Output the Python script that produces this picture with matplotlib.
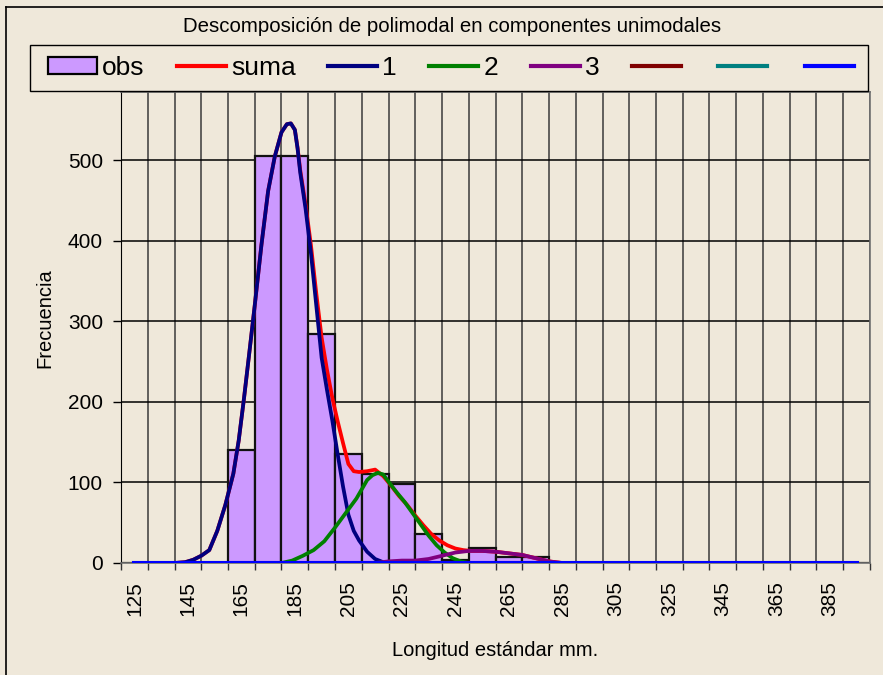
import numpy as np
import matplotlib
matplotlib.use("Agg")
import matplotlib.pyplot as plt
from matplotlib.lines import Line2D
from matplotlib.patches import Patch, Rectangle

# categories (class marks, mm) and observed frequencies
cats = np.arange(125, 400, 10)
obs = [0, 0, 0, 0, 140, 505, 505, 285, 135, 110, 98, 36, 4, 19, 8, 7,
       0, 0, 0, 0, 0, 0, 0, 0, 0, 0, 0, 0]
label_cats = cats[::2]

# fitted curves
x_suma = [125, 140, 144, 147, 150, 153, 156, 159, 162, 164, 166, 168, 170, 172.5, 175,
          177.5, 180, 182, 183.5, 185, 186, 187, 189, 191, 193, 195, 197, 199, 201, 203,
          205, 207, 209, 212, 215, 218, 221, 224, 227, 230, 233, 236, 239, 242, 245, 248,
          251, 255, 260, 265, 270, 275, 280, 285, 290, 395]
y_suma = [0, 0, 1, 4, 9, 16, 40, 72, 111, 152, 205, 262, 320, 395, 462,
          505, 535, 545, 546, 538, 516, 488, 445, 395, 335, 280, 240, 205, 176, 149,
          123, 114, 113, 114, 116, 108, 96, 83, 72, 59, 47, 36, 28, 22, 18, 16,
          15, 15, 14, 12, 10, 6, 2, 0, 0, 0]

x_c1 = [125, 140, 144, 147, 150, 153, 156, 159, 162, 164, 166, 168, 170, 172.5, 175,
        177.5, 180, 182, 183.5, 185, 186, 187, 189, 191, 193, 195, 197, 199, 201, 203,
        205, 207, 209, 212, 215, 218, 220, 395]
y_c1 = [0, 0, 1, 4, 9, 16, 40, 72, 111, 152, 205, 262, 320, 395, 462,
        505, 535, 545, 546, 538, 515, 485, 440, 385, 320, 255, 215, 177, 135, 95,
        60, 40, 28, 14, 5, 1, 0, 0]

x_c2 = [125, 180, 184, 188, 192, 196, 200, 204, 208, 212, 214, 216, 218, 220, 223,
        226, 229, 232, 235, 238, 241, 244, 247, 250, 395]
y_c2 = [0, 0, 3, 9, 16, 27, 44, 62, 80, 103, 109, 112, 110, 101, 88,
        76, 62, 48, 34, 22, 13, 6, 2, 0, 0]

x_c3 = [125, 215, 220, 225, 230, 235, 240, 245, 250, 255, 260, 265, 270, 275, 280,
        285, 290, 395]
y_c3 = [0, 0, 2, 3, 3, 5, 9, 13, 15, 15, 14, 12, 10, 6, 2, 0, 0, 0]

# empty components 4-6
zeros = [0] * len(cats)

bg = "#EFE8DA"
W, H = 883, 675
plt.rcParams["font.family"] = ["Liberation Sans", "DejaVu Sans"]

fig = plt.figure(figsize=(W / 100, H / 100), dpi=100, facecolor=bg)
ax = fig.add_axes([121 / W, 1 - 563 / H, (870 - 121) / W, (563 - 92) / H])
ax.set_facecolor(bg)

ax.bar(cats, obs, width=10, color="#CC99FF", edgecolor="#111111", linewidth=1.6, zorder=2)
ax.plot(x_suma, y_suma, color="#FF0000", lw=2.7, zorder=3)
ax.plot(x_c1, y_c1, color="#000080", lw=2.7, zorder=4)
ax.plot(x_c2, y_c2, color="#008000", lw=2.7, zorder=5)
ax.plot(x_c3, y_c3, color="#800080", lw=2.7, zorder=6)
ax.plot(cats, zeros, color="#800000", lw=2.9, zorder=7)
ax.plot(cats, zeros, color="#008080", lw=2.9, zorder=8)
ax.plot(cats, zeros, color="#0000FF", lw=2.9, zorder=9)

ax.set_xlim(120, 400)
ax.set_ylim(0, 585)

ax.set_xticks(np.arange(120, 401, 10))
ax.set_xticks(label_cats, minor=True)
ax.set_xticklabels([str(c) for c in label_cats], minor=True, rotation=90, fontsize=15)
ax.tick_params(axis="x", which="major", length=5, width=1, color="#333333", labelbottom=False)
ax.tick_params(axis="x", which="minor", length=0, pad=13)
ax.set_yticks(np.arange(0, 501, 100))
ax.tick_params(axis="y", length=6, width=1, pad=7, labelsize=15)

ax.grid(axis="x", which="major", color="#3a3a3a", lw=1.1, zorder=0)
ax.grid(axis="y", color="black", lw=1.1, zorder=0)
ax.set_axisbelow(True)

for s in ["top", "right", "bottom"]:
    ax.spines[s].set_color("#707070")
    ax.spines[s].set_linewidth(1.2)
ax.spines["left"].set_color("black")

# legend box drawn by hand, entries spread inside it
fig.add_artist(Rectangle((30 / W, 1 - 91 / H), (868 - 30) / W, 46 / H,
                         transform=fig.transFigure, facecolor=bg, edgecolor="black",
                         lw=1, zorder=5))
handles = [Patch(facecolor="#CC99FF", edgecolor="black", linewidth=1.6),
           Line2D([], [], color="#FF0000", lw=3),
           Line2D([], [], color="#000080", lw=3),
           Line2D([], [], color="#008000", lw=3),
           Line2D([], [], color="#800080", lw=3),
           Line2D([], [], color="#800000", lw=3),
           Line2D([], [], color="#008080", lw=3),
           Line2D([], [], color="#0000FF", lw=3)]
labels = ["obs", "suma", "1", "2", "3", "", "", ""]
leg = fig.legend(handles, labels, loc="center left", ncol=8, mode="expand",
                 bbox_to_anchor=(48 / W, 1 - 91 / H, (859 - 48) / W, 46 / H),
                 borderaxespad=0, fontsize=19, handlelength=1.85, handleheight=0.6,
                 handletextpad=0.2, columnspacing=1.3, borderpad=0,
                 frameon=False)
leg.set_zorder(6)

fig.text(452 / W, 1 - 26 / H, "Descomposición de polimodal en componentes unimodales",
         ha="center", va="center", fontsize=14.7)
fig.text(45 / W, 1 - 318 / H, "Frecuencia", rotation=90, ha="center", va="center", fontsize=14.5)
fig.text(495 / W, 1 - 651 / H, "Longitud estándar mm.", ha="center", va="center", fontsize=14.5)

# chart area border
fig.add_artist(Line2D([6 / W, 6 / W], [0, 1 - 7 / H], color="black", lw=1.2))
fig.add_artist(Line2D([6 / W, 1], [1 - 7 / H, 1 - 7 / H], color="black", lw=1.2))

fig.savefig("out.png", dpi=100, facecolor=bg)
